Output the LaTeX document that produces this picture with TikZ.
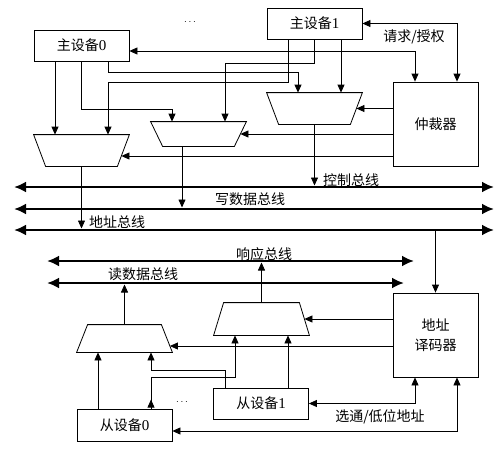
\documentclass[tikz,border=0pt]{standalone}
\usepackage{fontspec}
\setmainfont{Liberation Serif}
\newfontfamily\cjk{Noto Sans CJK SC}
\usetikzlibrary{arrows.meta,calc}
\tikzset{
	unit/.style={draw, minimum width=95pt, minimum height=31pt, inner sep=0pt, align=center, font=\cjk\fontsize{14}{20}\selectfont},
	muxbox/.style={minimum width=95pt, inner sep=0pt},
	arr/.style={-{Triangle[length=8pt,width=7pt]}},
	dbl/.style={{Triangle[length=8pt,width=7pt]}-{Triangle[length=8pt,width=7pt]}},
	bus/.style={line width=2.6pt, {Latex[length=12pt,width=11pt]}-{Latex[length=12pt,width=11pt]}},
	lbl/.style={inner sep=0pt, font=\cjk\fontsize{14}{16}\selectfont}
}
\begin{document}
\begin{tikzpicture}[x=1pt, y=-1pt, line width=0.8pt]
			\useasboundingbox (0,0) rectangle (495,452);
			\node[unit] (m0) at (81.5,45.5) {主设备{\rmfamily\fontsize{15}{20}\selectfont 0}};
			\node[unit] (m1) at (314.5,23.5) {主设备{\rmfamily\fontsize{15}{20}\selectfont 1}};
			\node[unit, minimum width=85pt, minimum height=84pt] (arb) at (435.5,124) {仲裁器};
			\node (dots1) at (190,22) {$\cdots$};
			\node[muxbox, minimum height=31pt] (mux1) at (81.5,150.5) {};
			\node[muxbox, minimum height=24pt] (mux2) at (198.5,134) {};
			\node[muxbox, minimum height=31pt] (mux3) at (314.5,108.5) {};
			\draw (mux1.north west) -- (mux1.north east) -- ([xshift=-12pt]mux1.south east) -- ([xshift=12pt]mux1.south west) -- cycle;
			\draw (mux2.north west) -- (mux2.north east) -- ([xshift=-12pt]mux2.south east) -- ([xshift=12pt]mux2.south west) -- cycle;
			\draw (mux3.north west) -- (mux3.north east) -- ([xshift=-12pt]mux3.south east) -- ([xshift=12pt]mux3.south west) -- cycle;
			\draw[arr] ([xshift=-26.5pt]m0.south) -- ([xshift=-26.5pt]mux1.north);
			\draw[arr] (m0.south) -- ++(0,48) -| ([xshift=-26.5pt]mux2.north);
			\draw[arr] ([xshift=26.5pt]m0.south) -- ++(0,11) -| ([xshift=-16.5pt]mux3.north);
			\draw[arr] ([xshift=-26.5pt]m1.south) -- ++(0,43) -| ([xshift=26.5pt]mux1.north);
			\draw[arr] (m1.south) -- ++(0,24) -| ([xshift=26.5pt]mux2.north);
			\draw[arr] ([xshift=26.5pt]m1.south) -- ([xshift=26.5pt]mux3.north);
			\draw[dbl] ([yshift=-5.5pt]m0.east) -| ([xshift=-20.5pt]arb.north);
			\draw[dbl] (m1.east) -| ([xshift=21.5pt]arb.north);
			\node[lbl] (req) at (414,37) {请求/授权};
			\coordinate (in1) at ([xshift=-8pt,yshift=-5.5pt]mux1.east);
			\draw[arr] (arb.west |- mux3.east) -- ([xshift=-6pt]mux3.east);
			\draw[arr] (arb.west |- mux2.east) -- ([xshift=-6pt]mux2.east);
			\draw[arr] (arb.west |- in1) -- (in1);
			\coordinate (ctrlL) at (14,187);
			\coordinate (ctrlR) at (494,187);
			\coordinate (wdataL) at (14,209);
			\coordinate (wdataR) at (494,209);
			\coordinate (addrL) at (14,230);
			\coordinate (addrR) at (494,230);
			\coordinate (respL) at (47,261);
			\coordinate (respR) at (414,261);
			\coordinate (rdataL) at (47,283);
			\coordinate (rdataR) at (404,283);
			\draw[bus] (ctrlL) -- (ctrlR);
			\draw[bus] (wdataL) -- (wdataR);
			\draw[bus] (addrL) -- (addrR);
			\draw[bus] (respL) -- (respR);
			\draw[bus] (rdataL) -- (rdataR);
			\coordinate (o2) at ([xshift=-16.5pt]mux2.south);
			\draw[arr] (mux1.south) -- ([yshift=1.5pt]mux1.south |- addrL);
			\draw[arr] (o2) -- ([yshift=1.5pt]o2 |- wdataL);
			\draw[arr] (mux3.south) -- ([yshift=1.5pt]mux3.south |- ctrlL);
			\node[lbl] (ctrl) at (351,180) {控制总线};
			\node[lbl] (wdata) at (250,199) {写数据总线};
			\node[lbl] (addr) at (117,222) {地址总线};
			\node[lbl] (resp) at (264,254) {响应总线};
			\node[lbl] (rdata) at (143,274) {读数据总线};
			\node[unit, minimum width=85pt, minimum height=84pt] (dec) at (435.5,335) {地址\\译码器};
			\node[unit, minimum height=32pt] (s0) at (124.5,425) {从设备{\rmfamily\fontsize{15}{20}\selectfont 0}};
			\node[unit] (s1) at (261,403.5) {从设备{\rmfamily\fontsize{15}{20}\selectfont 1}};
			\node (dots2) at (182,402) {$\cdots$};
			\node[muxbox, minimum height=27pt] (mux4) at (124.5,338.5) {};
			\node[muxbox, minimum height=32pt] (mux5) at (261.5,319) {};
			\draw ([xshift=11pt]mux4.north west) -- ([xshift=-11pt]mux4.north east) -- (mux4.south east) -- (mux4.south west) -- cycle;
			\draw ([xshift=10pt]mux5.north west) -- ([xshift=-10pt]mux5.north east) -- (mux5.south east) -- (mux5.south west) -- cycle;
			\draw[arr] (dec.north |- addrL) -- (dec.north);
			\coordinate (in4) at ([xshift=-2.5pt,yshift=-7.5pt]mux4.east);
			\draw[arr] (dec.west |- mux5.east) -- ([xshift=-5pt]mux5.east);
			\draw[arr] (dec.west |- in4) -- (in4);
			\draw[arr] (mux4.north) -- ([yshift=-1.5pt]mux4.north |- rdataL);
			\draw[arr] (mux5.north) -- ([yshift=-1.5pt]mux5.north |- respL);
			\draw[arr] ([xshift=-26.5pt]s0.north) -- ([xshift=-26.5pt]mux4.south);
			\draw[arr] ([xshift=26.5pt]s0.north) -- ++(0,-31) -| ([xshift=-26.5pt]mux5.south);
			\draw[arr] ([xshift=26.5pt]s0.north) -- ++(0,-9);
			\draw[arr] ([xshift=-36pt]s1.north) -- ++(0,-17) -| ([xshift=26.5pt]mux4.south);
			\draw[arr] ([xshift=27pt]s1.north) -- ([xshift=26.5pt]mux5.south);
			\draw[dbl] (s1.east) -| ([xshift=-20.5pt]dec.south);
			\draw[dbl] ([yshift=-6pt]s0.east) -| ([xshift=21.5pt]dec.south);
			\node[lbl] (sel) at (380,417) {选通/低位地址};
		\end{tikzpicture}
\end{document}
